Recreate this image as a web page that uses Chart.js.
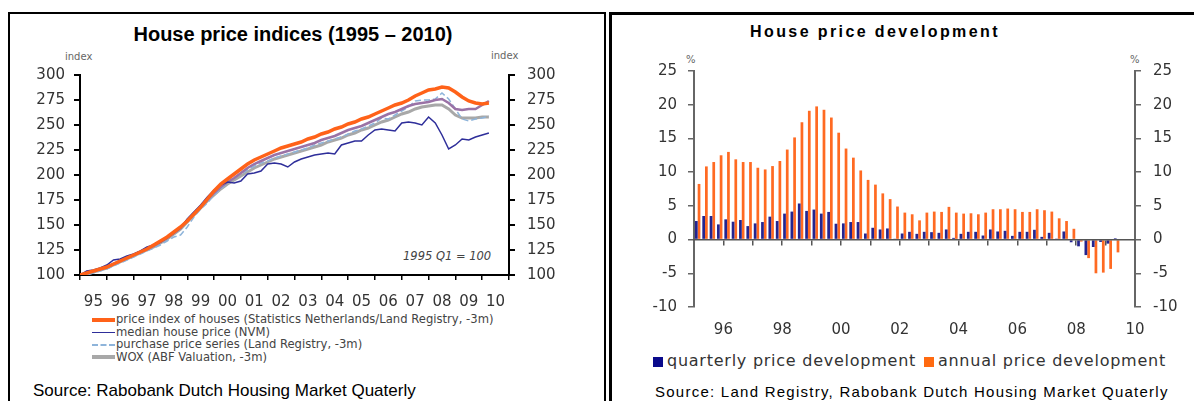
<!DOCTYPE html>
<html>
<head>
<meta charset="utf-8">
<script src="https://cdn.jsdelivr.net/npm/chart.js@4.4.1/dist/chart.umd.min.js"></script>
<style>
  body { margin: 0; width: 1194px; height: 401px; overflow: hidden; background: #fff; position: relative; font-family: "DejaVu Sans", sans-serif; }
  .box { position: absolute; border: 2px solid #000; border-bottom: none; }
  .abs { position: absolute; white-space: nowrap; }
  .title { font-family: "Liberation Sans", Arial, sans-serif; font-weight: bold; color: #000; line-height: 20px; }
  .src { font-family: "Liberation Sans", Arial, sans-serif; color: #000; }
  .unit { font-size: 10px; color: #666; }
  .leg { font-size: 11.6px; color: #444; line-height: 12.5px; }
  .sw { display: inline-block; width: 23px; vertical-align: middle; margin-right: 1px; }
  .sq { display: inline-block; width: 10px; height: 10px; margin-right: 4px; vertical-align: -1px; }
</style>
</head>
<body>

<div class="box" style="left:8px;top:12px;width:594px;height:400px;"></div>
<div class="box" style="left:609px;top:12px;width:600px;height:400px;border-width:3px 0 0 3px;"></div>

<div class="abs title" style="left:0;width:586px;top:24px;text-align:center;font-size:20px;">House price indices (1995 – 2010)</div>
<div class="abs unit" style="left:65px;top:51px;">index</div>
<div class="abs unit" style="left:491px;top:50px;">index</div>
<div class="abs" style="left:403px;top:249px;font-size:11.5px;font-style:italic;color:#444;">1995 Q1 = 100</div>
<div class="abs leg" style="left:92px;top:313px;">
  <div><span class="sw" style="border-top:4px solid #ff6219;"></span>price index of houses (Statistics Netherlands/Land Registry, -3m)</div>
  <div><span class="sw" style="border-top:1.5px solid #2e2e9a;"></span>median house price (NVM)</div>
  <div><span class="sw" style="border-top:2px dashed #8eb4da;"></span>purchase price series (Land Registry, -3m)</div>
  <div><span class="sw" style="border-top:4px solid #a8a8a8;"></span>WOX (ABF Valuation, -3m)</div>
</div>
<div class="abs src" style="left:33px;top:381px;font-size:17px;">Source: Rabobank Dutch Housing Market Quaterly</div>

<div class="abs title" style="left:612px;width:526px;top:22px;text-align:center;font-size:16px;letter-spacing:2.4px;">House price development</div>
<div class="abs unit" style="left:686px;top:54px;">%</div>
<div class="abs unit" style="left:1130px;top:54px;">%</div>
<div class="abs" style="left:653px;top:351px;font-size:16px;color:#333;letter-spacing:0.75px;">
  <span class="sq" style="background:#0a0a8c;"></span>quarterly price development <span class="sq" style="background:#ff6a10;margin-left:2px;"></span>annual price development
</div>
<div class="abs src" style="left:655px;top:383px;font-size:15px;letter-spacing:1.25px;">Source: Land Registry, Rabobank Dutch Housing Market Quaterly</div>

<canvas id="indexChart" class="abs" style="left:10px;top:40px;width:590px;height:290px;"></canvas>
<canvas id="changeChart" class="abs" style="left:612px;top:40px;width:582px;height:302px;"></canvas>

<script>
// --- DATA: house price indices, quarterly from 1995 Q1 (1995 Q1 = 100) ---
const startYear = 1995;
const yearTicks = [1995, 1996, 1997, 1998, 1999, 2000, 2001, 2002, 2003, 2004, 2005, 2006, 2007, 2008, 2009, 2010];

const priceIndex = [100, 102, 104, 106, 108, 111, 114, 117, 120, 123, 126, 130, 134, 138, 143, 148,
  154, 161, 168, 176, 184, 191, 196, 201, 206, 211, 215, 218, 221, 224, 227, 229,
  231, 233, 236, 238, 241, 243, 246, 248, 251, 253, 256, 258, 261, 264, 267, 270,
  272, 275, 279, 282, 285, 286, 288, 287, 283, 278, 274, 272, 271, 272];
const medianPrice = [100, 104, 105, 107, 110, 115, 116, 119, 121, 124, 128, 130, 133, 137, 142, 147,
  156, 163, 170, 178, 185, 190, 193, 192, 194, 201, 202, 204, 211, 212, 211, 208,
  213, 216, 218, 220, 221, 222, 221, 230, 232, 234, 234, 240, 245, 246, 245, 244,
  252, 253, 252, 250, 258, 252, 240, 226, 230, 236, 235, 238, 240, 242];
const purchasePrice = [99, 100, 102, 104, 106, 109, 112, 115, 118, 121, 124, 127, 130, 134, 138, 140,
  148, 158, 166, 172, 180, 186, 192, 197, 201, 205, 209, 212, 214, 217, 219, 221,
  223, 225, 227, 230, 232, 234, 236, 238, 241, 244, 246, 249, 252, 257, 256, 260,
  264, 268, 274, 275, 275, 276, 282, 276, 266, 256, 254, 256, 257, 259];
const woxValuation = [100, 101, 103, 105, 107, 110, 113, 116, 119, 122, 125, 128, 132, 136, 141, 146,
  153, 160, 167, 174, 180, 186, 191, 195, 199, 203, 207, 210, 213, 216, 218, 220,
  222, 224, 226, 228, 230, 233, 235, 237, 240, 242, 245, 247, 250, 253, 255, 258,
  261, 263, 266, 268, 269, 270, 270, 266, 260, 257, 257, 257, 258, 258];
const otherIndex = [100, 102, 104, 106, 108, 111, 114, 117, 120, 123, 126, 129, 133, 137, 142, 147,
  155, 162, 168, 175, 182, 188, 193, 197, 202, 207, 211, 214, 217, 220, 222, 224,
  226, 228, 230, 232, 235, 237, 239, 242, 245, 247, 249, 252, 255, 258, 261, 263,
  266, 269, 271, 272, 273, 275, 276, 272, 266, 265, 266, 266, 270, 274];

// --- DATA: house price development (%), quarterly from 1995 Q1 ---
const quarterlyChange = [2.75, 3.5, 3.5, 2.25, 3.0, 2.65, 2.9, 2.0, 2.4, 2.6, 3.4, 2.75, 3.85, 4.15, 5.35, 4.25,
  4.45, 3.85, 4.1, 2.35, 2.4, 2.6, 2.6, 0.9, 1.75, 1.5, 1.65, 0.05, 0.9, 1.15, 0.85, 1.15,
  1.1, 1.0, 1.5, 0.25, 0.85, 1.15, 1.15, 0.6, 1.5, 1.2, 1.3, 0.55, 1.15, 1.15, 1.45, 0.4,
  1.0, 0.15, 1.2, -0.4, -1.0, -2.3, -1.1, -0.35, -0.6, 0.2];
const annualChange = [8.25, 10.85, 11.5, 12.5, 13.0, 11.9, 11.5, 11.5, 10.65, 10.4, 10.9, 11.65, 13.35, 15.15, 17.4, 19.1,
  19.75, 19.25, 18.1, 15.85, 13.5, 12.15, 10.25, 8.85, 8.15, 6.85, 6.0, 4.9, 4.0, 3.75, 2.85, 4.0,
  4.15, 4.1, 4.85, 4.0, 3.85, 3.9, 3.75, 4.0, 4.5, 4.5, 4.6, 4.5, 4.1, 4.1, 4.5, 4.35,
  4.15, 3.15, 2.75, 1.6, -0.3, -2.75, -5.0, -4.9, -4.35, -1.9];
const evenYearTicks = [1996, 1998, 2000, 2002, 2004, 2006, 2008, 2010];

const quarterLabels = [];
for (let y = startYear; y < 2010; y++) {
  for (let q = 1; q <= 4; q++) quarterLabels.push(y + ' Q' + q);
}

const tickFont = { family: 'DejaVu Sans', size: 15 };
const toPoints = arr => arr.map((v, i) => ({ x: startYear + i / 4, y: v }));

// 1. House price indices (line)
new Chart(document.getElementById('indexChart'), {
  type: 'line',
  data: {
    datasets: [
      { label: 'price index of houses (Statistics Netherlands/Land Registry, -3m)', data: toPoints(priceIndex), borderColor: '#ff6219', borderWidth: 3.5 },
      { label: 'median house price (NVM)', data: toPoints(medianPrice), borderColor: '#2e2e9a', borderWidth: 1.5 },
      { label: 'other index', data: toPoints(otherIndex), borderColor: '#9a72a6', borderWidth: 2.5 },
      { label: 'purchase price series (Land Registry, -3m)', data: toPoints(purchasePrice), borderColor: '#8eb4da', borderWidth: 1.5, borderDash: [6, 3] },
      { label: 'WOX (ABF Valuation, -3m)', data: toPoints(woxValuation), borderColor: '#a8a8a8', borderWidth: 3 }
    ]
  },
  options: {
    responsive: false,
    animation: false,
    layout: { padding: { top: 35 } },
    elements: { point: { radius: 0 }, line: { tension: 0 } },
    plugins: { legend: { display: false }, tooltip: { enabled: false } },
    scales: {
      x: {
        type: 'linear', min: 1995, max: 2011,
        afterBuildTicks: s => { s.ticks = yearTicks.map(y => ({ value: y + 0.5 })); },
        afterFit: s => { s.height = 55; },
        ticks: { callback: (v, i) => String(yearTicks[i]).slice(2), font: tickFont, color: '#333', padding: 13, autoSkip: false, maxRotation: 0 },
        grid: { offset: true, drawOnChartArea: false, tickLength: 5, color: '#000', lineWidth: 1.5 },
        border: { color: '#000', width: 2 }
      },
      y: {
        min: 100, max: 300,
        afterFit: s => { s.width = 70; },
        ticks: { stepSize: 25, font: tickFont, color: '#333', padding: 9 },
        grid: { drawOnChartArea: false, tickLength: 6, color: '#000', lineWidth: 2 },
        border: { color: '#000', width: 2 }
      },
      y2: {
        position: 'right', min: 100, max: 300,
        afterFit: s => { s.width = 91; },
        ticks: { stepSize: 25, font: tickFont, color: '#333', padding: 12 },
        grid: { drawOnChartArea: false, tickLength: 6, color: '#000', lineWidth: 2 },
        border: { color: '#000', width: 2 }
      }
    }
  }
});

// 2. House price development (bar)
new Chart(document.getElementById('changeChart'), {
  type: 'bar',
  data: {
    labels: quarterLabels,
    datasets: [
      { label: 'quarterly price development', data: quarterlyChange, backgroundColor: '#24248f', categoryPercentage: 0.74, barPercentage: 1.0 },
      { label: 'annual price development', data: annualChange, backgroundColor: '#ff6a22', categoryPercentage: 0.74, barPercentage: 1.0 }
    ]
  },
  options: {
    responsive: false,
    animation: false,
    layout: { padding: { top: 31 } },
    plugins: { legend: { display: false }, tooltip: { enabled: false } },
    scales: {
      x: { type: 'category', display: false, offset: true },
      // zero line with year tick marks
      xZero: {
        type: 'linear', min: 1995, max: 2010, position: { y: 0 }, offset: false,
        afterBuildTicks: s => { s.ticks = yearTicks.slice(1, -1).map(y => ({ value: y })); },
        ticks: { display: false },
        grid: { offset: false, drawOnChartArea: false, tickLength: 5, color: '#555', lineWidth: 1.5 },
        border: { color: '#555', width: 1.5, z: 1 }
      },
      // year labels along the bottom
      xLabels: {
        type: 'linear', min: 1995, max: 2010, position: 'bottom', offset: false,
        afterBuildTicks: s => { s.ticks = evenYearTicks.map(y => ({ value: y })); },
        afterFit: s => { s.height = 35; },
        ticks: { callback: v => String(v).slice(2), font: tickFont, color: '#333', padding: 14, autoSkip: false, maxRotation: 0 },
        grid: { offset: false, display: false, drawTicks: false },
        border: { display: false }
      },
      y: {
        min: -10, max: 25,
        afterFit: s => { s.width = 82; },
        ticks: { stepSize: 5, font: tickFont, color: '#333', padding: 11 },
        grid: { drawOnChartArea: false, tickLength: 6, color: '#666', lineWidth: 1.5 },
        border: { color: '#666', width: 2 }
      },
      y2: {
        position: 'right', min: -10, max: 25,
        afterFit: s => { s.width = 59; },
        ticks: { stepSize: 5, font: tickFont, color: '#333', padding: 12 },
        grid: { drawOnChartArea: false, tickLength: 6, color: '#666', lineWidth: 1.5 },
        border: { color: '#666', width: 2 }
      }
    }
  }
});
</script>
</body>
</html>
